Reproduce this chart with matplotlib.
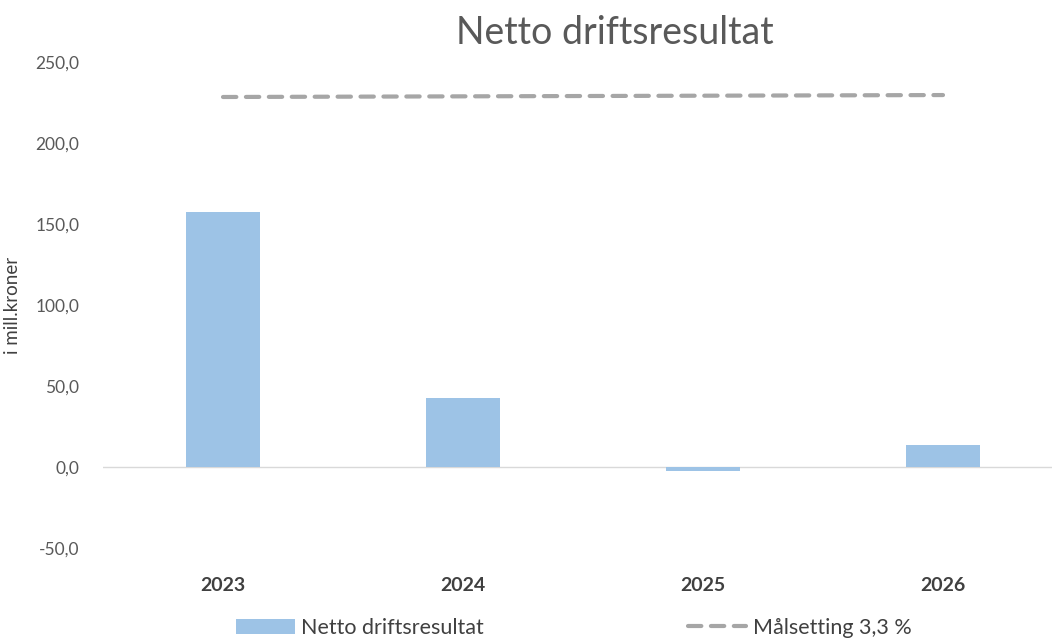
import matplotlib.pyplot as plt
from matplotlib.ticker import FuncFormatter

years = ["2023", "2024", "2025", "2026"]
netto = [157.4, 42.6, -2.5, 13.6]
maal = [228.4, 228.8, 229.2, 229.6]

plt.rcParams['font.family'] = ['Lato', 'DejaVu Sans']

fig = plt.figure(figsize=(10.52, 6.39), dpi=100)
ax = fig.add_axes([103 / 1052, 91 / 639, 960 / 1052, 486 / 639])

x = range(len(years))
bars = ax.bar(x, netto, width=0.31, color="#9dc3e6", label="Netto driftsresultat", zorder=2)
line, = ax.plot(x, maal, color="#a6a6a6", lw=3, linestyle=(0, (3.2, 2.3)),
                dash_capstyle="round", label="Målsetting 3,3 %", zorder=3)
ax.axhline(0, color="#d9d9d9", lw=1, zorder=1)

ax.set_xlim(-0.5, 3.5)
ax.set_ylim(-50, 250)
ax.set_yticks(range(-50, 251, 50))
ax.yaxis.set_major_formatter(FuncFormatter(lambda v, p: f"{v:.1f}".replace(".", ",")))
ax.set_xticks(list(x))
ax.set_xticklabels(years, fontweight="bold", color="#404040", fontsize=14)
for s in ax.spines.values():
    s.set_visible(False)
ax.tick_params(axis="y", length=0, pad=17, labelsize=12.5, labelcolor="#595959")
ax.tick_params(axis="x", length=0, pad=21)

ax.set_ylabel("i mill.kroner", fontsize=13.5, color="#404040", labelpad=10)
fig.text(615 / 1052, 1 - 33 / 639, "Netto driftsresultat", fontsize=27,
         color="#595959", ha="center", va="center")

fig.legend([bars, line], ["Netto driftsresultat", "Målsetting 3,3 %"],
           loc="center", bbox_to_anchor=(574 / 1052, 1 - 628 / 639), ncol=2,
           frameon=False, fontsize=15.5, handlelength=2.7, columnspacing=9.5,
           handletextpad=0.3, labelcolor="#404040")

fig.savefig("out.png", dpi=100)
